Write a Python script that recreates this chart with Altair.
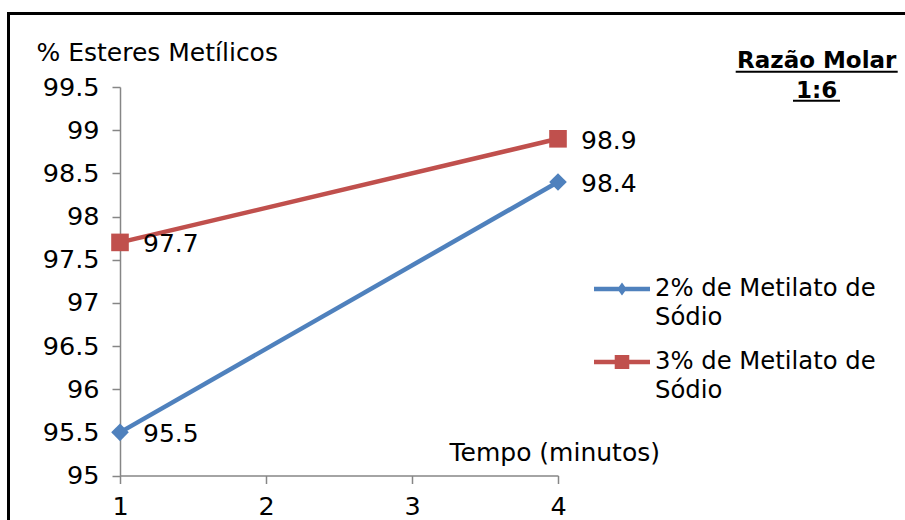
import altair as alt
import pandas as pd

# Tempo de reação (minutos) e teor de ésteres metílicos (%) por concentração de catalisador
tempo = [1, 4]
series = ["2% de Metilato de Sódio", "3% de Metilato de Sódio"]
ester_2pct = [95.5, 98.4]
ester_3pct = [97.7, 98.9]
colors = ["#4F81BD", "#C0504D"]
markers_by_series = ["diamond", "square"]
y_ticks = [95, 95.5, 96, 96.5, 97, 97.5, 98, 98.5, 99, 99.5]
x_ticks = [1, 2, 3, 4]

FONT = "DejaVu Sans"
FS = 25
FS_TICK = 25.5
FS_LEG = 24.3
FS_HEAD = 23
AXIS_GRAY = "#868686"

df = pd.DataFrame({
    "tempo": tempo + tempo,
    "valor": ester_2pct + ester_3pct,
    "serie": [series[0]] * len(tempo) + [series[1]] * len(tempo),
})

color_scale = alt.Scale(domain=series, range=colors)

# legend symbols: a line segment with the series marker in its middle
bar = "M-1,-0.08L1,-0.08L1,0.08L-1,0.08Z "
legend_shapes = [
    bar + "M-0.17,0L0,-0.23L0.17,0L0,0.23Z",
    bar + "M-0.26,-0.25L0.26,-0.25L0.26,0.25L-0.26,0.25Z",
]

legend_props = dict(
    orient="none", legendX=474, legendY=174, title=None, padding=0,
    symbolSize=3136, symbolStrokeWidth=0, symbolOpacity=1,
    labelFont=FONT, labelFontSize=FS_LEG, labelColor="black", labelLimit=0,
    labelOffset=5, rowPadding=32,
    labelExpr="replace(datum.label, ' Sódio', '')",
)

color_enc = alt.Color("serie:N", scale=color_scale, legend=alt.Legend(**legend_props))

x_enc = alt.X(
    "tempo:Q",
    scale=alt.Scale(domain=[1, 4], nice=False, zero=False),
    axis=alt.Axis(
        values=x_ticks, format="d", grid=False, labelFlush=False,
        domainColor=AXIS_GRAY, domainWidth=1.5,
        tickColor=AXIS_GRAY, tickWidth=1.5, tickSize=8,
        labelFont=FONT, labelFontSize=FS_TICK, labelColor="black",
        labelBaseline="alphabetic", labelPadding=31,
        title="Tempo (minutos)", titleFont=FONT, titleFontSize=FS,
        titleFontWeight="normal", titleColor="black",
        titleAlign="left", titleBaseline="alphabetic",
        titleX=329, titleY=-15, titleAngle=0,
    ),
)

y_enc = alt.Y(
    "valor:Q",
    scale=alt.Scale(domain=[95, 99.5], nice=False, zero=False),
    axis=alt.Axis(
        values=y_ticks, format=".1~f", grid=False, labelFlush=False,
        domainColor=AXIS_GRAY, domainWidth=1.5,
        tickColor=AXIS_GRAY, tickWidth=1.5, tickSize=8,
        labelFont=FONT, labelFontSize=FS_TICK, labelColor="black",
        labelPadding=13,
        title="% Esteres Metílicos", titleFont=FONT, titleFontSize=FS,
        titleFontWeight="normal", titleColor="black",
        titleAngle=0, titleAlign="left", titleBaseline="alphabetic",
        titleX=-84, titleY=-27,
    ),
)

lines = alt.Chart(df).mark_line(strokeWidth=4.5).encode(
    x=x_enc, y=y_enc, color=color_enc,
)

# one marker layer per series, each with its own marker shape
marker_layers = [
    alt.Chart(df).transform_filter(alt.datum.serie == name).mark_point(
        shape=shape, filled=True, opacity=1, size=310
    ).encode(x=x_enc, y=y_enc, color=color_enc)
    for name, shape in zip(series, markers_by_series)
]

value_labels = alt.Chart(df).mark_text(
    align="left", baseline="middle", dx=23, dy=2, font=FONT, fontSize=FS, color="black"
).encode(
    x=x_enc, y=y_enc,
    text=alt.Text("valor:Q", format=".1f"),
)

# empty layer that only carries the legend's symbol shapes
legend_layer = alt.Chart(df).transform_filter("false").mark_point(filled=True, opacity=1).encode(
    color=color_enc,
    shape=alt.Shape("serie:N", scale=alt.Scale(domain=series, range=legend_shapes),
                    legend=alt.Legend(**legend_props)),
)

one = alt.Data(values=[{}])

# wrapped second line of each legend entry
legend_wrap = [
    alt.Chart(one).mark_text(
        text="Sódio", font=FONT, fontSize=FS_LEG, align="left", baseline="alphabetic", color="black"
    ).encode(x=alt.value(535), y=alt.value(yy))
    for yy in (238, 311)
]

# outer frame (top and left edges)
frame_top = alt.Chart(one).mark_rule(color="black", strokeWidth=3).encode(
    x=alt.value(-113), x2=alt.value(800), y=alt.value(-73.5)
)
frame_left = alt.Chart(one).mark_rule(color="black", strokeWidth=3).encode(
    x=alt.value(-111.5), y=alt.value(-75), y2=alt.value(440)
)

# underlined heading at the top right
heading1 = alt.Chart(one).mark_text(
    text="Razão Molar", font=FONT, fontSize=FS_HEAD, fontWeight="bold",
    align="center", baseline="alphabetic", color="black"
).encode(x=alt.value(696.7), y=alt.value(-19.3))
heading2 = alt.Chart(one).mark_text(
    text="1:6", font=FONT, fontSize=FS_HEAD, fontWeight="bold",
    align="center", baseline="alphabetic", color="black"
).encode(x=alt.value(696.7), y=alt.value(11.3))
under1 = alt.Chart(one).mark_rule(color="black", strokeWidth=2).encode(
    x=alt.value(615.7), x2=alt.value(777.7), y=alt.value(-15.3)
)
under2 = alt.Chart(one).mark_rule(color="black", strokeWidth=2).encode(
    x=alt.value(673), x2=alt.value(720), y=alt.value(13.7)
)

chart = alt.layer(
    frame_top, frame_left, lines, *marker_layers, value_labels, legend_layer,
    *legend_wrap, heading1, heading2, under1, under2,
).properties(
    width=438, height=388.5,
    padding={"left": 120, "top": 87, "right": 347, "bottom": 44.5},
    autosize="none", background="white",
).configure_view(stroke=None)

chart.save("out.html", embed_options={"renderer": "svg", "actions": False})
